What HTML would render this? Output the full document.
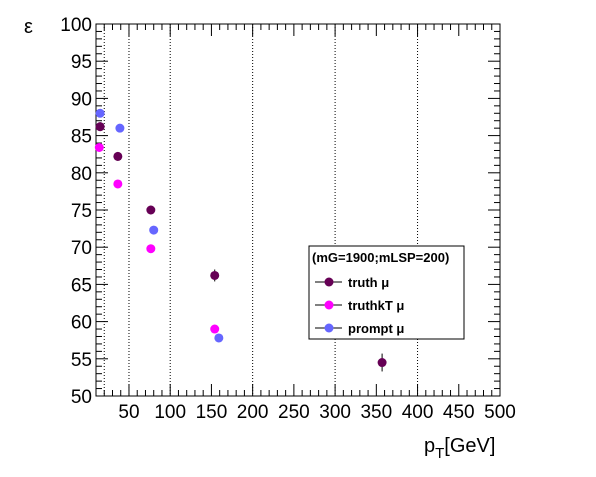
<!DOCTYPE html>
<html><head><meta charset="utf-8"><style>
body{margin:0;background:#fff;}
svg text{font-family:"Liberation Sans",sans-serif;}
</style></head><body>
<svg id="c" width="596" height="472" xmlns="http://www.w3.org/2000/svg"></svg>
<script>
const xTicks=[50,100,150,200,250,300,350,400,450,500];
const yTicks=[50,55,60,65,70,75,80,85,90,95,100];
const gridX=[20,50,100,200,300,400];
const truthX=[15,36.5,76.5,154,357];
const truthY=[86.2,82.2,75.0,66.2,54.5];
const truthErr=[0.6,0.6,0.6,0.8,1.2];
const kTX=[14,36.5,76.5,154];
const kTY=[83.4,78.5,69.8,59.0];
const promptX=[15,39,80,159];
const promptY=[88.0,86.0,72.3,57.8];
const L=96,R=500,T=24,B=396,X0=10,X1=500,Y0=50,Y1=100;
const sx=v=>L+(v-X0)*(R-L)/(X1-X0);
const sy=v=>B-(v-Y0)*(B-T)/(Y1-Y0);
const svg=document.getElementById('c');
const NS='http://www.w3.org/2000/svg';
function mk(tag,at,name,parent){const e=document.createElementNS(NS,tag);for(const k in at)e.setAttribute(k,at[k]);


(parent||svg).appendChild(e);return e;}
gridX.forEach(v=>mk('line',{x1:sx(v),x2:sx(v),y1:T,y2:B,stroke:'#000','stroke-dasharray':'1,2','stroke-width':1},'grid-line-x'));
mk('rect',{x:L,y:T,width:R-L,height:B-T,fill:'none',stroke:'#000','stroke-width':1},'plot-frame');
for(let v=10;v<=500;v+=10){const big=v%50===0;const x=sx(v);
mk('line',{x1:x,x2:x,y1:B,y2:B-(big?12:6),stroke:'#000'},'x-tick');
mk('line',{x1:x,x2:x,y1:T,y2:T+(big?12:6),stroke:'#000'},'x-tick-top');}
xTicks.forEach(v=>{const t=mk('text',{x:sx(v),y:B+22,'text-anchor':'middle','font-size':19},'x-tick-label');t.textContent=v;});
for(let v=50;v<=100;v+=1){const big=v%5===0;const y=sy(v);
mk('line',{x1:L,x2:L+(big?12:6),y1:y,y2:y,stroke:'#000'},'y-tick');
mk('line',{x1:R,x2:R-(big?12:6),y1:y,y2:y,stroke:'#000'},'y-tick-right');}
yTicks.forEach(v=>{const t=mk('text',{x:L-4,y:sy(v)+7,'text-anchor':'end','font-size':19},'y-tick-label');t.textContent=v;});
const yt=mk('text',{x:24,y:33,'font-size':20},'y-axis-title');yt.textContent='ε';
const xt=mk('text',{x:424,y:452,'font-size':20},'x-axis-title');
xt.innerHTML='p<tspan dy="6" font-size="15">T</tspan><tspan dy="-6">[GeV]</tspan>';
function series(xs,ys,errs,col,name){xs.forEach((v,i)=>{const x=sx(v),y=sy(ys[i]);
if(errs){mk('line',{x1:x,x2:x,y1:sy(ys[i]+errs[i]),y2:sy(ys[i]-errs[i]),stroke:'#000'},name+'-error');}
mk('circle',{cx:x,cy:y,r:4.5,fill:col},name+'-point');});}
series(truthX,truthY,truthErr,'#660055','truth');
series(kTX,kTY,null,'#ff00ff','truthkt');
series(promptX,promptY,null,'#6666ff','prompt');
const lg=mk('g',{},'legend');
mk('rect',{x:309,y:246,width:155,height:93,fill:'#fff',stroke:'#000'},'legend-box',lg);
const lt=mk('text',{x:312,y:262,'font-size':13,'font-weight':'bold'},'legend-title',lg);lt.textContent='(mG=1900;mLSP=200)';
[['truth μ','#660055',282],['truthkT μ','#ff00ff',305],['prompt μ','#6666ff',328]].forEach(([n,c,y])=>{
mk('line',{x1:315,x2:342,y1:y,y2:y,stroke:'#000'},'legend-line',lg);
mk('circle',{cx:329,cy:y,r:4.5,fill:c},'legend-marker',lg);
const t=mk('text',{x:348,y:y+5,'font-size':13,'font-weight':'bold'},'legend-entry',lg);t.textContent=n;});
</script>
</body></html>
